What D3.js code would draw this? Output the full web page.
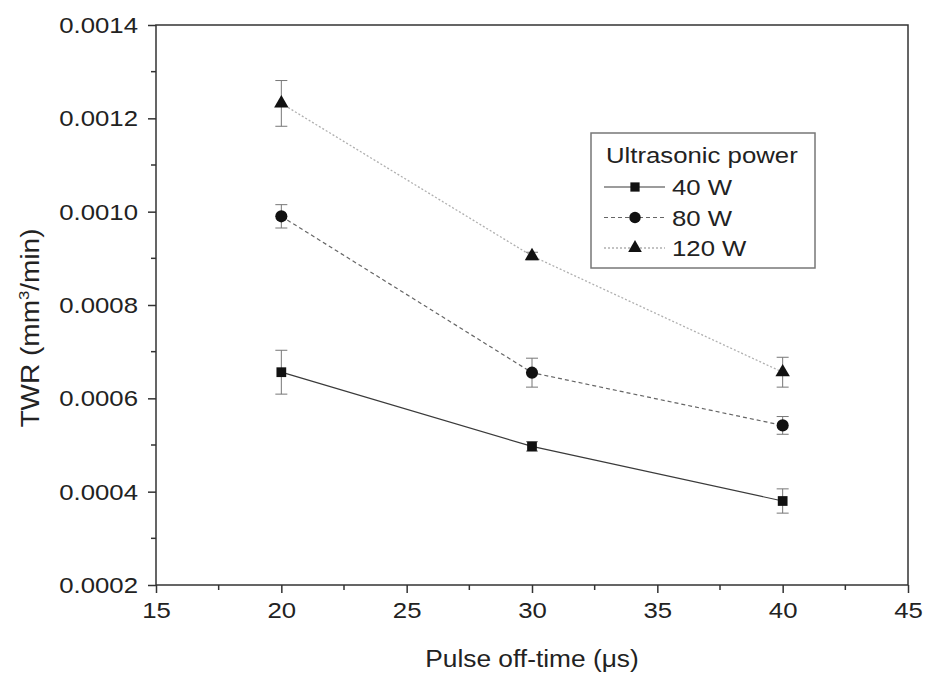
<!DOCTYPE html>
<html><head><meta charset="utf-8">
<script src="https://cdn.jsdelivr.net/npm/d3@7"></script>
<style>body{margin:0;background:#fff}svg{display:block}text{font-family:"Liberation Sans",Arial,sans-serif;fill:#222}</style>
</head><body><svg id="c" width="928" height="679"></svg>
<script>
const offTimes = [20, 30, 40];
const seriesNames = ["40 W", "80 W", "120 W"];
const twr40 = [0.000656, 0.000497, 0.000380];
const err40 = [0.000047, 0.000010, 0.000026];
const twr80 = [0.000990, 0.000655, 0.000542];
const err80 = [0.000025, 0.000031, 0.000019];
const twr120 = [0.001232, 0.000905, 0.000656];
const err120 = [0.000049, 0.000008, 0.000032];
const xTicks = [15, 20, 25, 30, 35, 40, 45];
const yTicks = [0.0002, 0.0004, 0.0006, 0.0008, 0.0010, 0.0012, 0.0014];

const SX = 1.12;
const svg = d3.select("#c");
const L = 156, R = 908, T = 25, B = 585;
const x = d3.scaleLinear().domain([15, 45]).range([L, R]);
const y = d3.scaleLinear().domain([0.0002, 0.0014]).range([B, T]);

const series = [
  {name: seriesNames[0], v: twr40, e: err40, sym: d3.symbolSquare, size: 95, color: "#3a3a3a", dash: null, w: 1.2},
  {name: seriesNames[1], v: twr80, e: err80, sym: d3.symbolCircle, size: 115, color: "#666", dash: "4,3", w: 1.2},
  {name: seriesNames[2], v: twr120, e: err120, sym: d3.symbolTriangle, size: 90, color: "#b0b0b0", dash: "2,2", w: 1.3}
];

function txt(g, px, py, s, size, anchor, rot) {
  return g.append("text")
    .attr("transform", `translate(${px},${py})` + (rot ? ` rotate(${rot})` : "") + ` scale(${SX},1)`)
    .attr("text-anchor", anchor || "start").attr("font-size", size).text(s);
}

// frame
svg.append("rect").attr("x", L).attr("y", T).attr("width", R - L).attr("height", B - T)
  .attr("fill", "none").attr("stroke", "#333").attr("stroke-width", 1.5);

// axes
const xAxis = d3.axisBottom(x).tickValues(xTicks).tickFormat(d3.format("d")).tickSize(8).tickPadding(9);
const gx = svg.append("g").attr("transform", `translate(0,${B})`).call(xAxis);
const yAxis = d3.axisLeft(y).tickValues(yTicks).tickFormat(d3.format(".4f")).tickSize(8).tickPadding(10);
const gy = svg.append("g").attr("transform", `translate(${L},0)`).call(yAxis);
[gx, gy].forEach(g => {
  g.select(".domain").remove();
  g.selectAll("line").attr("stroke", "#333").attr("stroke-width", 1.5);
  g.selectAll("text").attr("font-size", 23).attr("fill", "#222").style("font-family", "Liberation Sans, Arial, sans-serif");
});
gx.selectAll(".tick text").attr("transform", function () {
  const yy = +d3.select(this).attr("y");
  return `translate(0,${yy}) scale(${SX},1) translate(0,${-yy})`;
});
gy.selectAll(".tick text").attr("transform", function () {
  const xx = +d3.select(this).attr("x");
  return `translate(${xx},0) scale(${SX},1) translate(${-xx},0)`;
});
// minor ticks
const xMinor = xTicks.slice(0, -1).map(d => d + 2.5);
svg.append("g").selectAll("line").data(xMinor).join("line")
  .attr("x1", d => x(d)).attr("x2", d => x(d)).attr("y1", B).attr("y2", B + 5)
  .attr("stroke", "#333").attr("stroke-width", 1.5);
const yMinor = yTicks.slice(0, -1).map(d => d + 0.0001);
svg.append("g").selectAll("line").data(yMinor).join("line")
  .attr("y1", d => y(d)).attr("y2", d => y(d)).attr("x1", L).attr("x2", L - 5)
  .attr("stroke", "#333").attr("stroke-width", 1.5);

// axis titles
txt(svg, (L + R) / 2, 667, "Pulse off-time (μs)", 23.5, "middle");
const yt = txt(svg, 39, 328, "", 25, "middle", -90);
yt.append("tspan").text("TWR (mm");
yt.append("tspan").attr("font-size", 15).attr("dy", -10).text("3");
yt.append("tspan").attr("dy", 10).text("/min)");

// series
const line = d3.line().x((d, i) => x(offTimes[i])).y(d => y(d));
series.forEach(s => {
  svg.append("path").datum(s.v).attr("d", line).attr("fill", "none")
    .attr("stroke", s.color).attr("stroke-width", s.w).attr("stroke-dasharray", s.dash);
  const g = svg.append("g");
  s.v.forEach((v, i) => {
    const cx = x(offTimes[i]);
    const y1 = y(v + s.e[i]), y2 = y(v - s.e[i]);
    g.append("line").attr("x1", cx).attr("x2", cx).attr("y1", y1).attr("y2", y2).attr("stroke", "#777").attr("stroke-width", 1);
    [y1, y2].forEach(yy => g.append("line").attr("x1", cx - 6).attr("x2", cx + 6).attr("y1", yy).attr("y2", yy).attr("stroke", "#777").attr("stroke-width", 1));
    g.append("path").attr("d", d3.symbol().type(s.sym).size(s.size)()).attr("transform", `translate(${cx},${y(v)})`).attr("fill", "#111");
  });
});

// legend
const lg = svg.append("g");
lg.append("rect").attr("x", 591).attr("y", 133).attr("width", 224).attr("height", 135)
  .attr("fill", "#fff").attr("stroke", "#777").attr("stroke-width", 1.5);
txt(lg, 606, 163, "Ultrasonic power", 23);
series.forEach((s, i) => {
  const yy = 187 + i * 30.5;
  lg.append("line").attr("x1", 604).attr("x2", 665).attr("y1", yy).attr("y2", yy)
    .attr("stroke", s.color).attr("stroke-width", s.w).attr("stroke-dasharray", s.dash);
  lg.append("path").attr("d", d3.symbol().type(s.sym).size(s.size * 0.9)()).attr("transform", `translate(635,${yy})`).attr("fill", "#111");
  txt(lg, 672, yy + 8, s.name, 23);
});
</script></body></html>
